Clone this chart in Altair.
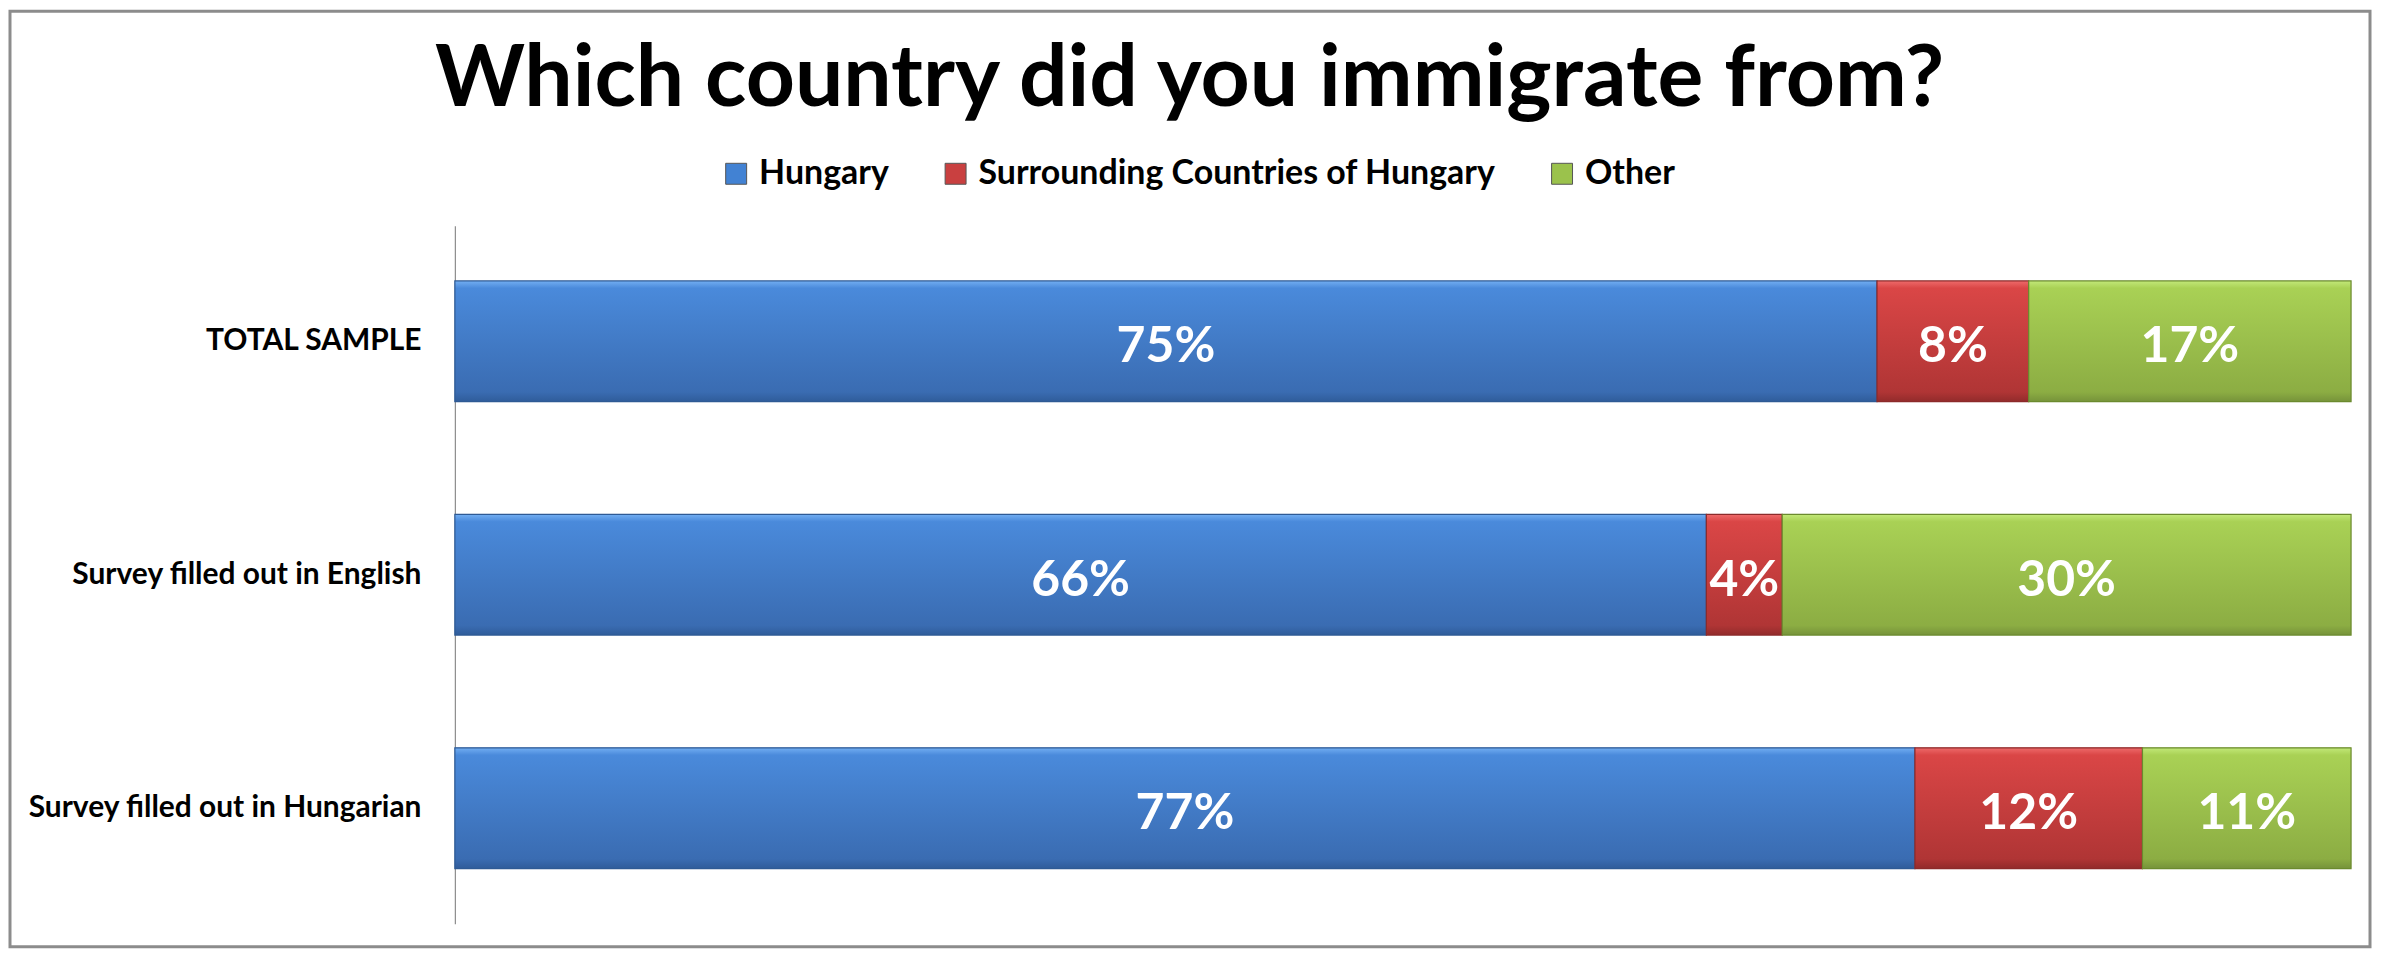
import altair as alt
import pandas as pd

groups = ["TOTAL SAMPLE", "Survey filled out in English", "Survey filled out in Hungarian"]
series = ["Hungary", "Surrounding Countries of Hungary", "Other"]
hungary = [75, 66, 77]
surrounding = [8, 4, 12]
other = [17, 30, 11]

solid = ["#4282D3", "#C94040", "#9BC24C"]
strokes = ["#2E5A94", "#8C2A2A", "#6B8A2E"]
grad_stops = [
    ["#72AEF2", "#4A8ADB", "#3A6CB2", "#2F5C9A"],
    ["#EE6A6A", "#DA4646", "#B03535", "#922B2B"],
    ["#C2E878", "#A9D155", "#8CAD43", "#76933A"],
]

rows = []
for gi, g in enumerate(groups):
    for si, (s, vals) in enumerate(zip(series, [hungary, surrounding, other])):
        rows.append({"group": g, "series": s, "value": vals[gi], "order": si})
df = pd.DataFrame(rows)

FONT = "Lato"

y_enc = alt.Y(
    "group:N",
    sort=groups,
    scale=alt.Scale(paddingInner=0.483, paddingOuter=0.237),
    axis=alt.Axis(
        title=None,
        ticks=False,
        labelFont=FONT,
        labelFontSize=30,
        labelFontWeight="bold",
        labelColor="#000000",
        labelPadding=34,
        labelLimit=0,
        domainColor="#8C8C8C",
        domainWidth=1.2,
        grid=False,
    ),
)
x_scale = alt.Scale(domain=[0, 100], nice=False, zero=True)

base = alt.Chart(df).transform_stack(
    stack="value",
    groupby=["group"],
    as_=["v0", "v1"],
    sort=[alt.SortField("order", "ascending")],
)

solid_bars = base.mark_bar().encode(
    y=y_enc,
    x=alt.X("v0:Q", scale=x_scale, axis=None),
    x2="v1:Q",
    color=alt.Color(
        "series:N",
        scale=alt.Scale(domain=series, range=solid),
        sort=series,
        legend=alt.Legend(
            title=None,
            orient="none",
            direction="horizontal",
            legendX=265,
            legendY=-69,
            symbolType="square",
            symbolSize=441,
            symbolStrokeWidth=1,
            symbolStrokeColor="#555555",
            labelFont=FONT,
            labelFontSize=34,
            labelFontWeight="bold",
            labelColor="#000000",
            labelOffset=6,
            labelLimit=0,
            columnPadding=49,
            padding=0,
        ),
    ),
)

layers = [solid_bars]
for s, stops, stk in zip(series, grad_stops, strokes):
    grad = {
        "gradient": "linear",
        "x1": 0, "x2": 0, "y1": 0, "y2": 1,
        "stops": [
            {"offset": 0.0, "color": stops[0]},
            {"offset": 0.06, "color": stops[1]},
            {"offset": 0.92, "color": stops[2]},
            {"offset": 1.0, "color": stops[3]},
        ],
    }
    layers.append(
        base.transform_filter(alt.datum.series == s)
        .mark_bar(fill=grad, stroke=stk, strokeWidth=1.2)
        .encode(y=alt.Y("group:N", sort=groups), x=alt.X("v0:Q", scale=x_scale), x2="v1:Q")
    )

labels = base.transform_calculate(
    mid="(datum.v0 + datum.v1) / 2", lab="datum.value + '%'"
).mark_text(
    font=FONT, fontSize=50, fontWeight="bold", color="white", align="center", baseline="middle", dy=6
).encode(
    y=alt.Y("group:N", sort=groups),
    x=alt.X("mid:Q", scale=x_scale),
    text="lab:N",
)
layers.append(labels)

frame = alt.Chart(pd.DataFrame({"a": [0]})).mark_rect(
    fill=None, stroke="#8C8C8C", strokeWidth=3
).encode(
    x=alt.value(-446), x2=alt.value(1920), y=alt.value(-215), y2=alt.value(723)
)
layers.append(frame)

chart = alt.layer(*layers).properties(
    width=1901,
    height=700,
    title=alt.TitleParams(
        "Which country did you immigrate from?",
        font=FONT,
        fontSize=86,
        fontWeight="bold",
        color="#000000",
        anchor="middle",
        dx=-214,
        offset=-115,
    ),
    autosize=alt.AutoSizeParams(type="none"),
    padding={"left": 448, "top": 217, "right": 22, "bottom": 28},
).configure(background="white").configure_view(strokeWidth=0, stroke=None)

chart.save("out.html", embed_options={"renderer": "svg", "actions": False})
